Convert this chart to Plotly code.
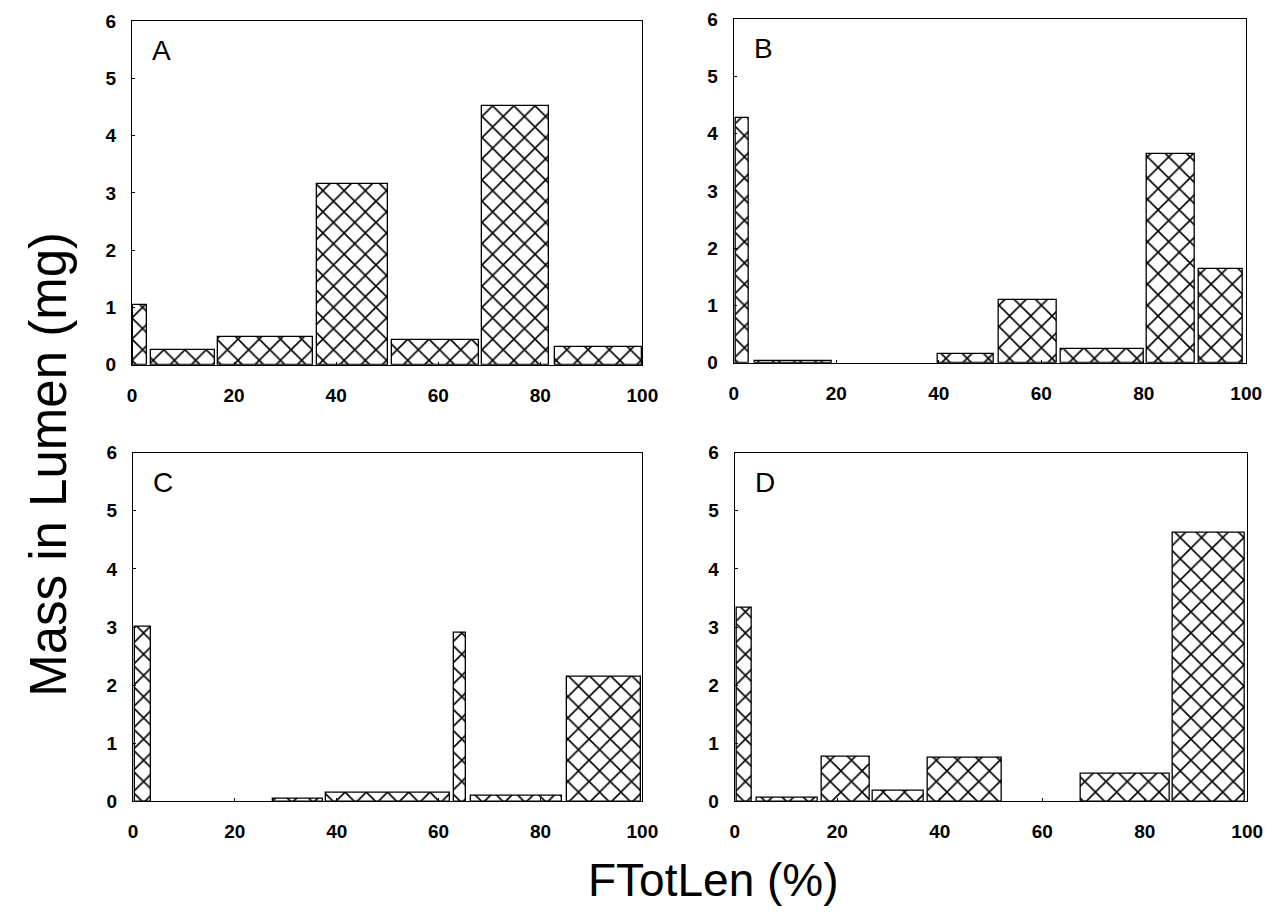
import numpy as np
import plotly.graph_objects as go

# ---- data (FTotLen bins in %, mass in mg) ----
A_left = [0.2, 3.8, 16.8, 36.3, 51.0, 68.5, 82.9]
A_right = [2.9, 16.2, 35.4, 50.2, 67.9, 81.8, 99.9]
A_mass = [1.05, 0.26, 0.49, 3.15, 0.44, 4.52, 0.32]

B_left = [0.4, 4.1, 39.8, 51.7, 63.8, 80.7, 90.8]
B_right = [3.0, 19.1, 50.8, 63.0, 80.0, 89.9, 99.3]
B_mass = [4.27, 0.03, 0.15, 1.09, 0.25, 3.64, 1.64]

C_left = [0.3, 27.4, 37.9, 63.0, 66.3, 85.1]
C_right = [3.6, 37.3, 62.3, 65.4, 84.3, 99.7]
C_mass = [3.0, 0.05, 0.155, 2.91, 0.10, 2.14]

D_left = [0.4, 4.2, 16.9, 27.0, 37.6, 67.6, 85.5]
D_right = [3.4, 16.2, 26.4, 36.9, 52.1, 84.9, 99.5]
D_mass = [3.34, 0.07, 0.77, 0.19, 0.75, 0.48, 4.63]

panel_labels = ["A", "B", "C", "D"]
x_ticks = [0, 20, 40, 60, 80, 100]
y_ticks = [0, 1, 2, 3, 4, 5, 6]
x_title = "FTotLen (%)"
y_title = "Mass in Lumen (mg)"

panels = [
    (A_left, A_right, A_mass),
    (B_left, B_right, B_mass),
    (C_left, C_right, C_mass),
    (D_left, D_right, D_mass),
]

# ---- layout geometry (target screen px; page body has an 8px margin) ----
SW, SH = 1281, 923
OFF = 8
W, H = SW - 2 * OFF, SH - 2 * OFF
frames = [  # left, right, top, bottom in screen px
    (129, 648, 11, 363),
    (741, 1262, 9, 361),
    (130, 648, 453, 810),
    (742, 1263, 453, 810),
]

def px(x):
    return (x - OFF) / W

def py(y):
    return 1 - (y - OFF) / H

FONT = "Liberation Sans, Arial, Helvetica, sans-serif"

fig = go.Figure()
layout = dict(
    width=W, height=H,
    margin=dict(l=0, r=0, t=0, b=0),
    paper_bgcolor="white", plot_bgcolor="white",
    showlegend=False,
    font=dict(family=FONT, color="black"),
    bargap=0,
)

annotations = []
for i, ((left, right, mass), (fl, fr, ft, fb)) in enumerate(zip(panels, frames)):
    n = "" if i == 0 else str(i + 1)
    xa, ya = "x" + n, "y" + n
    left = np.array(left)
    right = np.array(right)
    centers = (left + right) / 2
    widths = right - left
    fig.add_trace(go.Bar(
        x=centers, y=mass, width=widths, base=0,
        xaxis=xa, yaxis=ya,
        marker=dict(
            color="white",
            line=dict(color="black", width=1.3),
            pattern=dict(shape="x", size=15, solidity=0.2,
                         fgcolor="black", fgopacity=1, bgcolor="white"),
        ),
        hoverinfo="x+y",
    ))
    axis_common = dict(
        showline=True, linecolor="black", linewidth=1.4, mirror=True,
        showgrid=False, zeroline=False,
        ticks="inside", ticklen=3, tickcolor="black",
        tickfont=dict(family=FONT, size=19, color="black", weight="bold"),
    )
    layout["xaxis" + n] = dict(
        axis_common,
        domain=[px(fl), px(fr)], range=[0, 100],
        tickvals=x_ticks, ticklabelstandoff=13,
        anchor=ya,
    )
    layout["yaxis" + n] = dict(
        axis_common,
        domain=[py(fb), py(ft)], range=[0, 6],
        tickvals=y_ticks, ticklabelstandoff=11,
        anchor=xa,
    )
    annotations.append(dict(
        text=panel_labels[i], xref=xa + " domain", yref=ya + " domain",
        x=0.035, y=0.965, xanchor="left", yanchor="top", showarrow=False,
        font=dict(family=FONT, size=28, color="black"),
    ))

annotations.append(dict(
    text=y_title, xref="paper", yref="paper", x=px(44), y=py(465),
    textangle=-90, showarrow=False, xanchor="center", yanchor="middle",
    font=dict(family=FONT, size=51, color="black"),
))
annotations.append(dict(
    text=x_title, xref="paper", yref="paper", x=px(720), y=0,
    showarrow=False, xanchor="center", yanchor="bottom", yshift=-4,
    font=dict(family=FONT, size=46, color="black"),
))
layout["annotations"] = annotations
fig.update_layout(**layout)
fig.write_html("out.html")
